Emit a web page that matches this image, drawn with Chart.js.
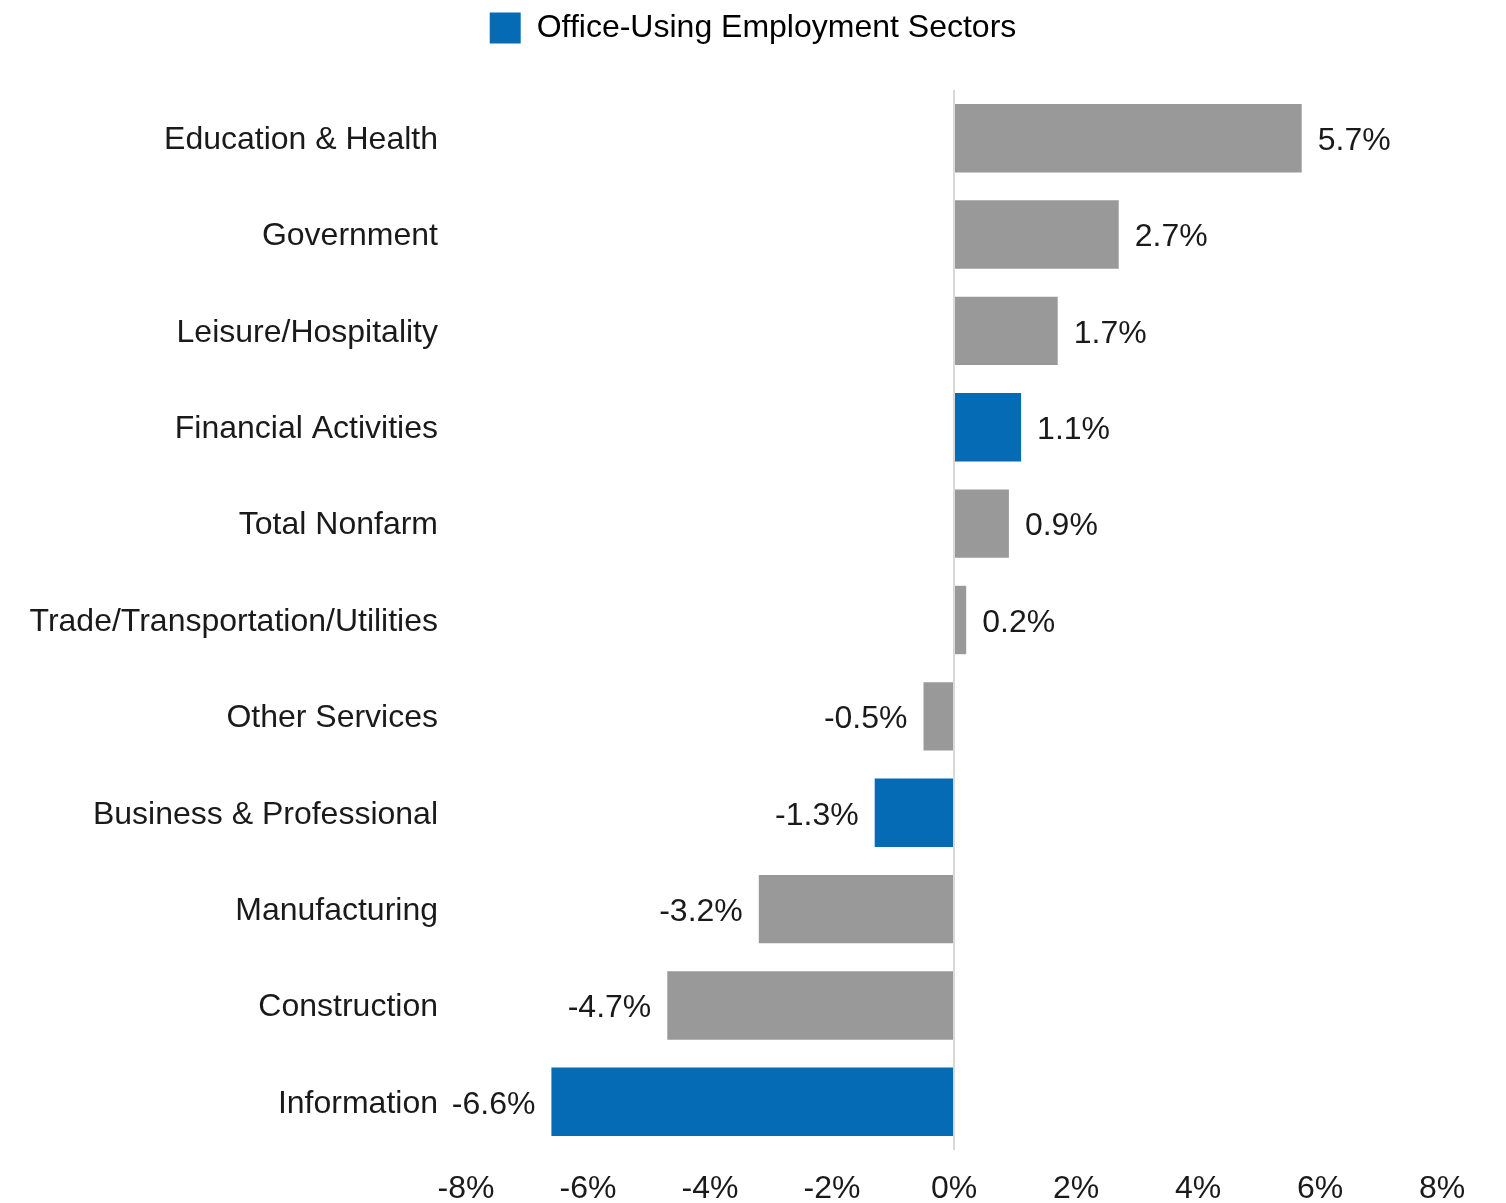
<!DOCTYPE html>
<html>
<head>
<meta charset="utf-8">
<script src="https://cdn.jsdelivr.net/npm/chart.js@4"></script>
<style>
  html, body { margin: 0; padding: 0; background: #ffffff; }
  #wrap { width: 1506px; height: 1203px; }
</style>
</head>
<body>
<div id="wrap"><canvas id="c" width="1506" height="1203"></canvas></div>
<script>
const categories = [
  "Education & Health",
  "Government",
  "Leisure/Hospitality",
  "Financial Activities",
  "Total Nonfarm",
  "Trade/Transportation/Utilities",
  "Other Services",
  "Business & Professional",
  "Manufacturing",
  "Construction",
  "Information"
];
const values = [5.7, 2.7, 1.7, 1.1, 0.9, 0.2, -0.5, -1.3, -3.2, -4.7, -6.6];
const officeUsing = [false, false, false, true, false, false, false, true, false, false, true];
const xTicks = [-8, -6, -4, -2, 0, 2, 4, 6, 8];
const legendLabel = "Office-Using Employment Sectors";

const BLUE = "#066BB5";
const GRAY = "#999999";
const TEXT = "#1a1a1a";
const FONT = "'Liberation Sans', Arial, sans-serif";
const FS = 32;

const barColors = officeUsing.map(f => f ? BLUE : GRAY);

const legendFitPlugin = {
  id: "legendFit",
  beforeInit(chart) {
    const lg = chart.legend;
    if (lg && !lg._wrapped) {
      const f = lg.fit.bind(lg);
      lg.fit = function () { f(); this.height = 90; };
      lg._wrapped = true;
    }
  },
  afterLayout(chart) {
    const lg = chart.legend;
    if (lg) {
      lg.left = 0;
      lg.right = chart.width;
      lg.width = chart.width;
    }
  }
};

const valueLabelPlugin = {
  id: "valueLabels",
  afterDatasetsDraw(chart) {
    const ctx = chart.ctx;
    const meta = chart.getDatasetMeta(0);
    ctx.save();
    ctx.font = FS + "px " + FONT;
    ctx.fillStyle = TEXT;
    ctx.textBaseline = "middle";
    meta.data.forEach((el, i) => {
      const v = values[i];
      const txt = v.toFixed(1) + "%";
      if (v >= 0) {
        ctx.textAlign = "left";
        ctx.fillText(txt, el.x + 16, el.y + 3);
      } else {
        ctx.textAlign = "right";
        ctx.fillText(txt, el.x - 16, el.y + 3);
      }
    });
    ctx.restore();
  }
};

new Chart(document.getElementById("c"), {
  type: "bar",
  data: {
    labels: categories,
    datasets: [{
      label: legendLabel,
      data: values,
      backgroundColor: barColors,
      borderWidth: 0,
      categoryPercentage: 1.0,
      barPercentage: 0.71
    }]
  },
  options: {
    indexAxis: "y",
    responsive: false,
    animation: false,
    devicePixelRatio: 1,
    layout: { padding: { left: 0, right: 64, top: 0, bottom: 0 } },
    plugins: {
      tooltip: { enabled: false },
      legend: {
        display: true,
        position: "top",
        labels: {
          boxWidth: 31,
          boxHeight: 31,
          padding: 12,
          color: TEXT,
          font: { family: FONT, size: FS },
          generateLabels: () => [{
            text: legendLabel,
            fillStyle: BLUE,
            strokeStyle: BLUE,
            lineWidth: 0,
            hidden: false,
            datasetIndex: 0
          }]
        }
      }
    },
    scales: {
      x: {
        type: "linear",
        min: -8,
        max: 8,
        afterBuildTicks: (scale) => { scale.ticks = xTicks.map(v => ({ value: v })); },
        afterFit: (scale) => { scale.height = 53; },
        border: { display: false },
        grid: {
          drawTicks: false,
          lineWidth: 2,
          color: (c) => (c.tick && c.tick.value === 0) ? "#d9d9d9" : "rgba(0,0,0,0)"
        },
        ticks: {
          padding: 20,
          color: TEXT,
          font: { family: FONT, size: FS },
          maxRotation: 0,
          callback: (v) => v + "%"
        }
      },
      y: {
        afterFit: (scale) => { scale.width = 466; },
        border: { display: false },
        grid: { display: false, drawTicks: false },
        ticks: {
          padding: 28,
          labelOffset: 2,
          color: TEXT,
          font: { family: FONT, size: FS },
          autoSkip: false
        }
      }
    }
  },
  plugins: [legendFitPlugin, valueLabelPlugin]
});
</script>
</body>
</html>
